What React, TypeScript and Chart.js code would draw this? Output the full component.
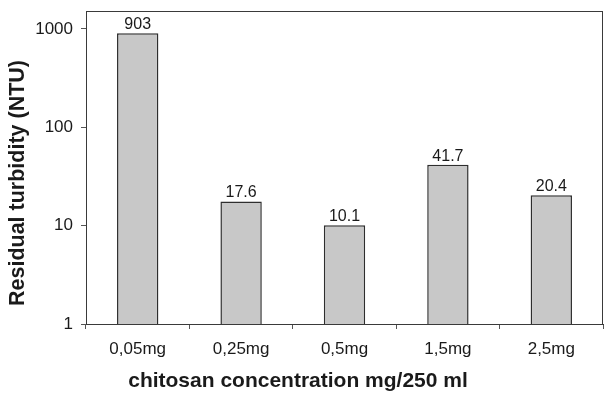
import React, { useEffect, useRef } from "react";
import { Chart, registerables } from "chart.js";

Chart.register(...registerables);

const categories = ["0,05mg", "0,25mg", "0,5mg", "1,5mg", "2,5mg"];
const turbidity = [903, 17.6, 10.1, 41.7, 20.4];
const valueLabels = ["903", "17.6", "10.1", "41.7", "20.4"];
const yTickValues = [1, 10, 100, 1000];
const yTitle = "Residual turbidity (NTU)";
const xTitle = "chitosan concentration mg/250 ml";

const FONT = "'Liberation Sans', Arial, sans-serif";

export default function App() {
  const ref = useRef<HTMLCanvasElement>(null);
  useEffect(() => {
    const canvas = ref.current!;
    const boxPlugin = {
      id: "boxPlugin",
      afterDraw(chart: any) {
        const { ctx, chartArea } = chart;
        ctx.save();
        ctx.strokeStyle = "#3a3a3a";
        ctx.lineWidth = 1;
        ctx.strokeRect(chartArea.left + 0.5, chartArea.top + 0.5, chartArea.right - chartArea.left - 1, chartArea.bottom - chartArea.top);
        ctx.restore();
        const meta = chart.getDatasetMeta(0);
        ctx.save();
        ctx.fillStyle = "#1a1a1a";
        ctx.font = `16px ${FONT}`;
        ctx.textAlign = "center";
        ctx.textBaseline = "alphabetic";
        meta.data.forEach((bar: any, i: number) => {
          ctx.fillText(valueLabels[i], bar.x, bar.y - 4);
        });
        ctx.restore();
        // axis titles
        ctx.save();
        ctx.fillStyle = "#1a1a1a";
        ctx.textAlign = "center";
        ctx.textBaseline = "middle";
        ctx.font = `bold 21px ${FONT}`;
        ctx.fillText(xTitle, 298, 381);
        ctx.translate(18, 183);
        ctx.rotate(-Math.PI / 2);
        ctx.font = `bold 21.5px ${FONT}`;
        ctx.fillText(yTitle, 0, 0);
        ctx.restore();
      },
    };
    const chart = new Chart(canvas, {
      type: "bar",
      data: {
        labels: categories,
        datasets: [
          {
            data: turbidity,
            backgroundColor: "#c8c8c8",
            borderColor: "#2e2e2e",
            borderWidth: 1.5,
            barPercentage: 0.8,
            categoryPercentage: 0.5,
          },
        ],
      },
      options: {
        responsive: false,
        animation: false,
        layout: { padding: { top: 11, right: 1, left: 0, bottom: 0 } },
        plugins: { legend: { display: false }, tooltip: { enabled: false } },
        scales: {
          x: {
            grid: { offset: true, drawOnChartArea: false, tickLength: 5, color: "#555" },
            border: { color: "#3a3a3a" },
            ticks: { color: "#1a1a1a", font: { family: FONT, size: 17 }, padding: 10 },
            afterFit(scale: any) { scale.height = 80; },
          },
          y: {
            type: "logarithmic",
            min: 1,
            max: 1520,
            afterBuildTicks(scale: any) {
              scale.ticks = yTickValues.map((v) => ({ value: v }));
            },
            grid: { drawOnChartArea: false, tickLength: 5, color: "#555" },
            border: { color: "#3a3a3a" },
            ticks: {
              color: "#1a1a1a",
              font: { family: FONT, size: 17 },
              padding: 8,
              callback: (v: any) => String(v),
            },
            afterFit(scale: any) {
              scale.width = 86;
              scale.paddingTop = 0;
              scale.paddingBottom = 0;
            },
          },
        },
      },
      plugins: [boxPlugin],
    });
    return () => chart.destroy();
  }, []);
  return (
    <div style={{ position: "fixed", left: 0, top: 0, width: 604, height: 404, background: "#fff" }}>
      <canvas ref={ref} width={604} height={404} style={{ display: "block" }} />
    </div>
  );
}
